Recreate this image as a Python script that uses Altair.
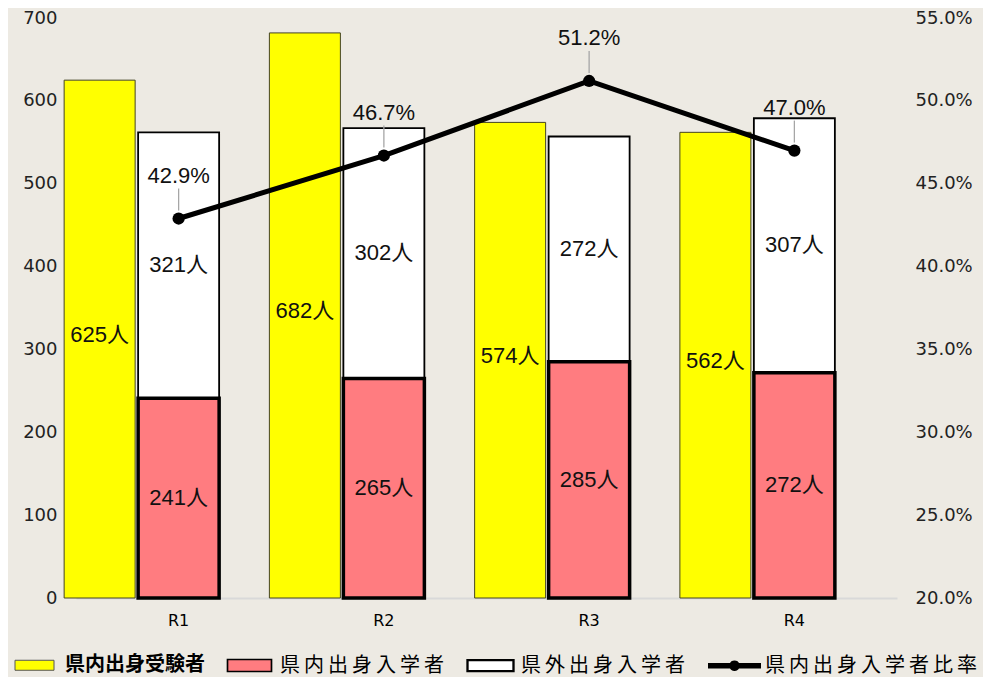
import altair as alt
import pandas as pd

# ---- data ----
years = ["R1", "R2", "R3", "R4"]
applicants_in = [625, 682, 574, 562]      # 県内出身受験者
enrolled_in = [241, 265, 285, 272]        # 県内出身入学者
enrolled_out = [321, 302, 272, 307]       # 県外出身入学者
ratio_in = [0.429, 0.467, 0.512, 0.470]   # 県内出身入学者比率

series = ["県内出身受験者", "県内出身入学者", "県外出身入学者", "県内出身入学者比率"]
series_fill = ["#FFFF00", "#FF7C80", "#FFFFFF", "#000000"]
series_stroke = ["#555555", "#000000", "#000000", "#000000"]
series_strokew = [1, 3, 1.5, 0]
series_shape = [
    "M-0.78,-0.2H0.78V0.2H-0.78Z",
    "M-0.88,-0.24H0.88V0.24H-0.88Z",
    "M-0.92,-0.22H0.92V0.22H-0.92Z",
    "M-1,-0.05H-0.1414A0.15,0.15 0 0,1 0.1414,-0.05H1V0.05H0.1414A0.15,0.15 0 0,1 -0.1414,0.05H-1Z",
]

df = pd.DataFrame({
    "year": years,
    "app": applicants_in,
    "ein": enrolled_in,
    "eout": enrolled_out,
    "ratio": ratio_in,
})
df["top"] = df["ein"] + df["eout"]
df["app_mid"] = df["app"] / 2
df["ein_mid"] = df["ein"] / 2
df["eout_mid"] = df["ein"] + df["eout"] / 2
df["app_lbl"] = df["app"].astype(str) + "人"
df["ein_lbl"] = df["ein"].astype(str) + "人"
df["eout_lbl"] = df["eout"].astype(str) + "人"
df["ratio_lbl"] = [f"{r * 100:.1f}%" for r in ratio_in]

legend_df = pd.DataFrame({"series": series})

NUM_FONT = "Liberation Sans, Noto Sans CJK JP"
TICK_FONT = "DejaVu Sans"
BG = "#EDEAE3"

base = alt.Chart(df)
x = alt.X(
    "year:N",
    sort=years,
    scale=alt.Scale(paddingInner=0, paddingOuter=0),
    axis=alt.Axis(
        title=None, labelAngle=0, ticks=False, domainColor="#d9d9d9",
        domainWidth=2, labelFont=TICK_FONT, labelFontSize=16, labelColor="#000000",
        labelPadding=14,
    ),
)

yleft_scale = alt.Scale(domain=[0, 700], nice=False)
yleft_axis = alt.Axis(
    title=None, values=list(range(0, 701, 100)), domain=False, ticks=False, grid=False,
    labelFont=TICK_FONT, labelFontSize=18, labelColor="#222222", labelPadding=19,
)

yellow = base.mark_bar(width=71, xOffset=-79, color="#FFFF00", stroke="#444422", strokeWidth=1).encode(
    x=x, y=alt.Y("app:Q", scale=yleft_scale, axis=yleft_axis)
)
yellow_lbl = base.mark_text(dx=-79, dy=-4, font=NUM_FONT, fontSize=22, color="#111111").encode(
    x=x, y=alt.Y("app_mid:Q"), text="app_lbl:N"
)
white = base.mark_bar(width=81, color="#FFFFFF", stroke="#000000", strokeWidth=1.8).encode(
    x=x, y=alt.Y("top:Q"), y2="ein:Q"
)
pink = base.mark_bar(width=81, color="#FF7C80", stroke="#000000", strokeWidth=3.5).encode(
    x=x, y=alt.Y("ein:Q")
)
white_lbl = base.mark_text(font=NUM_FONT, fontSize=22, color="#111111").encode(
    x=x, y=alt.Y("eout_mid:Q"), text="eout_lbl:N"
)
pink_lbl = base.mark_text(font=NUM_FONT, fontSize=22, color="#111111").encode(
    x=x, y=alt.Y("ein_mid:Q"), text="ein_lbl:N"
)

left = alt.layer(yellow, white, pink, yellow_lbl, white_lbl, pink_lbl)

yright = alt.Y(
    "ratio:Q",
    scale=alt.Scale(domain=[0.2, 0.55], nice=False, zero=False),
    axis=alt.Axis(
        orient="right", title=None, format=".1%",
        values=[0.2, 0.25, 0.3, 0.35, 0.4, 0.45, 0.5, 0.55],
        domain=False, ticks=False, grid=False,
        labelFont=TICK_FONT, labelFontSize=18, labelColor="#222222", labelPadding=18,
    ),
)
line = base.mark_line(color="#000000", strokeWidth=5).encode(x=x, y=yright)
pts = base.mark_point(filled=True, color="#000000", size=150, opacity=1).encode(x=x, y=yright)
leader = base.mark_rule(color="#a6a6a6", strokeWidth=1.3, yOffset=-8, y2Offset=-30).encode(
    x=x, y=yright, y2="ratio:Q"
)
ratio_lbl = base.mark_text(dy=-43, font=NUM_FONT, fontSize=22, color="#111111").encode(
    x=x, y=yright, text="ratio_lbl:N"
)

legend_layer = alt.Chart(legend_df).mark_point(filled=True, opacity=0).encode(
    fill=alt.Fill(
        "series:N",
        scale=alt.Scale(domain=series, range=series_fill),
        legend=alt.Legend(
            title=None, orient="none", legendX=-68, legendY=621, direction="horizontal",
            columns=4, columnPadding=18, symbolSize=2500, symbolOpacity=1,
            labelOffset=4, labelLimit=400,
            labelFont="Noto Sans CJK JP", labelFontSize=20, labelColor="#000000",
            labelFontWeight=alt.ExprRef("datum.value == '県内出身受験者' ? 'bold' : 'normal'"),
            labelExpr="datum.value == '県内出身受験者' ? '\u2009' + datum.label : join(split(datum.label, ''), '\u2009')",
        ),
    ),
    stroke=alt.Stroke("series:N", scale=alt.Scale(domain=series, range=series_stroke)),
    shape=alt.Shape("series:N", scale=alt.Scale(domain=series, range=series_shape)),
    strokeWidth=alt.StrokeWidth("series:N", scale=alt.Scale(domain=series, range=series_strokew)),
)

right = alt.layer(line, leader, pts, ratio_lbl, legend_layer)

chart = (
    alt.layer(left, right)
    .resolve_scale(y="independent")
    .properties(
        width=821, height=580,
        autosize=alt.AutoSizeParams(type="none"),
        padding={"left": 68, "top": 10, "right": 86, "bottom": 79},
        background=BG,
    )
    .configure_view(strokeWidth=0)
    .configure_legend(symbolFillColor="#ffffff", symbolStrokeColor="#000000")
)

chart.save("out.html", embed_options={"renderer": "svg", "actions": False})
